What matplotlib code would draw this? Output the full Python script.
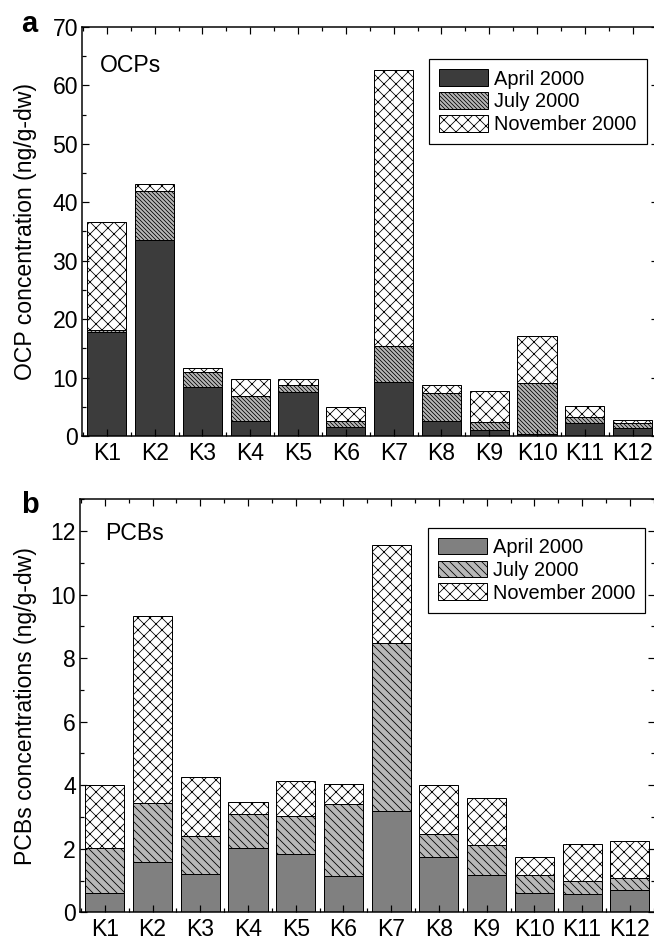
import numpy as np
import matplotlib
matplotlib.use("Agg")
import matplotlib.pyplot as plt
from matplotlib.ticker import MultipleLocator, FixedLocator

plt.rcParams['font.family'] = ['Liberation Sans', 'DejaVu Sans']
plt.rcParams['hatch.linewidth'] = 0.8

sites = ['K1', 'K2', 'K3', 'K4', 'K5', 'K6', 'K7', 'K8', 'K9', 'K10', 'K11', 'K12']
months = ['April 2000', 'July 2000', 'November 2000']

# OCPs (ng/g-dw), stacked per sampling month
ocp_apr = [17.8, 33.6, 8.3, 2.6, 7.6, 1.5, 9.3, 2.6, 1.1, 0.3, 2.2, 1.3]
ocp_jul = [0.4, 8.3, 2.7, 4.3, 1.2, 1.1, 6.1, 4.8, 1.3, 8.7, 1.0, 1.0]
ocp_nov = [18.4, 1.2, 0.6, 2.8, 0.9, 2.3, 47.3, 1.3, 5.3, 8.1, 1.9, 0.4]

# PCBs (ng/g-dw)
pcb_apr = [0.60, 1.59, 1.19, 2.03, 1.83, 1.14, 3.20, 1.75, 1.17, 0.60, 0.58, 0.70]
pcb_jul = [1.41, 1.84, 1.22, 1.06, 1.20, 2.27, 5.28, 0.73, 0.95, 0.57, 0.42, 0.37]
pcb_nov = [1.99, 5.90, 1.86, 0.39, 1.09, 0.63, 3.08, 1.52, 1.49, 0.58, 1.15, 1.18]

FS = 23
LFS = 20


def panel(ax, apr, jul, nov, apr_col, jul_hatch, ymax, ymaj, ymin, ylab, name, lab_x, leg_xy):
    x = np.arange(1, len(sites) + 1)
    apr = np.array(apr)
    jul = np.array(jul)
    nov = np.array(nov)
    w = 0.82
    ax.bar(x, apr, w, color=apr_col, edgecolor='black', lw=1, label=months[0])
    ax.bar(x, jul, w, bottom=apr, color='#b8b8b8', edgecolor='black', lw=1,
           hatch=jul_hatch, label=months[1])
    ax.bar(x, nov, w, bottom=apr + jul, color='white', edgecolor='black', lw=1,
           hatch='xx', label=months[2])
    ax.set_xlim(0.48, 12.52)
    ax.set_ylim(0, ymax)
    ax.set_xticks(x)
    ax.set_xticklabels(sites)
    ax.xaxis.set_minor_locator(FixedLocator(np.arange(0.5, 13, 1.0)))
    ax.yaxis.set_major_locator(MultipleLocator(ymaj))
    ax.yaxis.set_minor_locator(MultipleLocator(ymin))
    ax.tick_params(which='both', direction='in', top=True, right=True, width=1.2,
                   labelsize=FS)
    ax.tick_params(which='major', length=7)
    ax.tick_params(which='minor', length=4)
    ax.tick_params(axis='x', pad=6)
    ax.tick_params(axis='y', pad=4)
    for s in ax.spines.values():
        s.set_linewidth(1.5)
    ax.set_ylabel(ylab, fontsize=FS)
    ax.yaxis.set_label_coords(lab_x, 0.5)
    ax.text(name[1], name[2], name[0], transform=ax.transAxes, fontsize=FS,
            ha='left', va='center')
    leg = ax.legend(loc='upper right', bbox_to_anchor=leg_xy, fontsize=LFS,
                    frameon=True, fancybox=False, framealpha=1, edgecolor='black',
                    handlelength=2.45, handleheight=0.9, handletextpad=0.3,
                    labelspacing=0.18, borderpad=0.5, borderaxespad=0)
    leg.get_frame().set_linewidth(1.2)


fig = plt.figure(figsize=(654 / 72, 941 / 72), dpi=72)
ax1 = fig.add_axes([0.1254, 0.5367, 0.880, 0.4346])
ax2 = fig.add_axes([0.1223, 0.0305, 0.8787, 0.4389])

panel(ax1, ocp_apr, ocp_jul, ocp_nov, '#3c3c3c', '\\' * 6, 70, 10, 5,
      'OCP concentration (ng/g-dw)', ('OCPs', 0.031, 0.907), -0.078, (0.981, 0.921))
panel(ax2, pcb_apr, pcb_jul, pcb_nov, '#808080', '\\' * 3, 13, 2, 1,
      'PCBs concentrations (ng/g-dw)', ('PCBs', 0.043, 0.916), -0.075, (0.983, 0.931))

fig.text(0.033, 0.966, 'a', fontsize=29, fontweight='bold', ha='left', va='baseline')
fig.text(0.033, 0.455, 'b', fontsize=29, fontweight='bold', ha='left', va='baseline')

fig.savefig('out.png', dpi=72)
